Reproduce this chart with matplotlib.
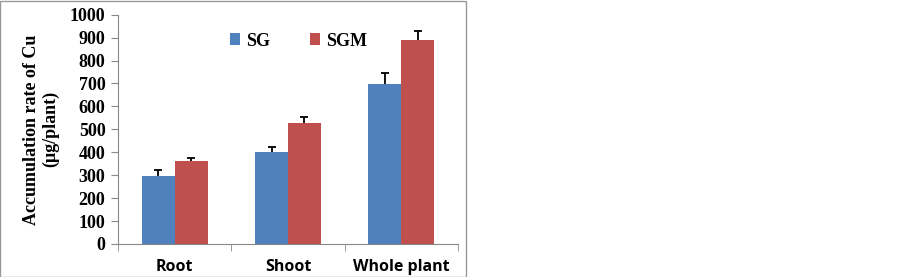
import numpy as np
import matplotlib.pyplot as plt
from matplotlib.patches import Rectangle

# Data
categories = ["Root", "Shoot", "Whole plant"]
sg_vals = [298, 403, 698]
sg_err = [24, 20, 46]
sgm_vals = [360, 527, 891]
sgm_err = [17, 28, 40]

serif = "Liberation Serif"
sans = "Open Sans"

fig = plt.figure(figsize=(9.03, 2.77), dpi=100)
ax = fig.add_axes([118/903, 1-244/277, 340/903, (244-14.7)/277])

x = np.arange(len(categories))
w = 0.29
for off, vals, err, col, lab in [(-w/2, sg_vals, sg_err, "#4F81BD", "SG"),
                                 (w/2, sgm_vals, sgm_err, "#C0504D", "SGM")]:
    ax.bar(x + off, vals, w, color=col, label=lab, zorder=2)
    # upper error bars only
    ax.errorbar(x + off, vals, yerr=[np.zeros(3), err], fmt="none",
                ecolor="black", elinewidth=1.3, capsize=0, zorder=3)
    ax.plot(x + off, np.array(vals) + np.array(err), ls="none", marker="_",
            ms=6, mew=1.3, color="black", zorder=3)

ax.set_xlim(-0.5, 2.5)
ax.set_ylim(0, 1000)
ax.set_yticks(np.arange(0, 1001, 100))
ax.set_xticks(x)
ax.set_xticklabels(categories, fontfamily=sans, fontweight="bold", fontsize=11.5)
ax.set_xticks([-0.5, 0.5, 1.5, 2.5], minor=True)
ax.tick_params(axis="x", which="major", length=0, pad=11)
ax.tick_params(axis="x", which="minor", length=5, color="#888888")
ax.tick_params(axis="y", length=5, color="#888888", pad=4)
for lab in ax.get_yticklabels():
    lab.set_fontfamily(serif)
    lab.set_fontweight("bold")
    lab.set_fontsize(13)

for s in ["top", "right"]:
    ax.spines[s].set_visible(False)
for s in ["left", "bottom"]:
    ax.spines[s].set_color("#888888")

ax.set_ylabel("Accumulation rate of Cu\n(\u03bcg/plant)", fontfamily=serif,
              fontweight="bold", fontsize=13, labelpad=8, linespacing=1.1)

ax.legend(loc="center", bbox_to_anchor=(0.53, 0.885), ncol=2, frameon=False,
          prop=dict(family=serif, weight="bold", size=13),
          handlelength=0.6, handleheight=0.6, handletextpad=0.3,
          columnspacing=2.2)

fig.add_artist(Rectangle((0.5/903, 0.5/277), 466/903, 276/277,
                         transform=fig.transFigure, fill=False,
                         ec="#999999", lw=1))

fig.savefig("out.png", dpi=100)
